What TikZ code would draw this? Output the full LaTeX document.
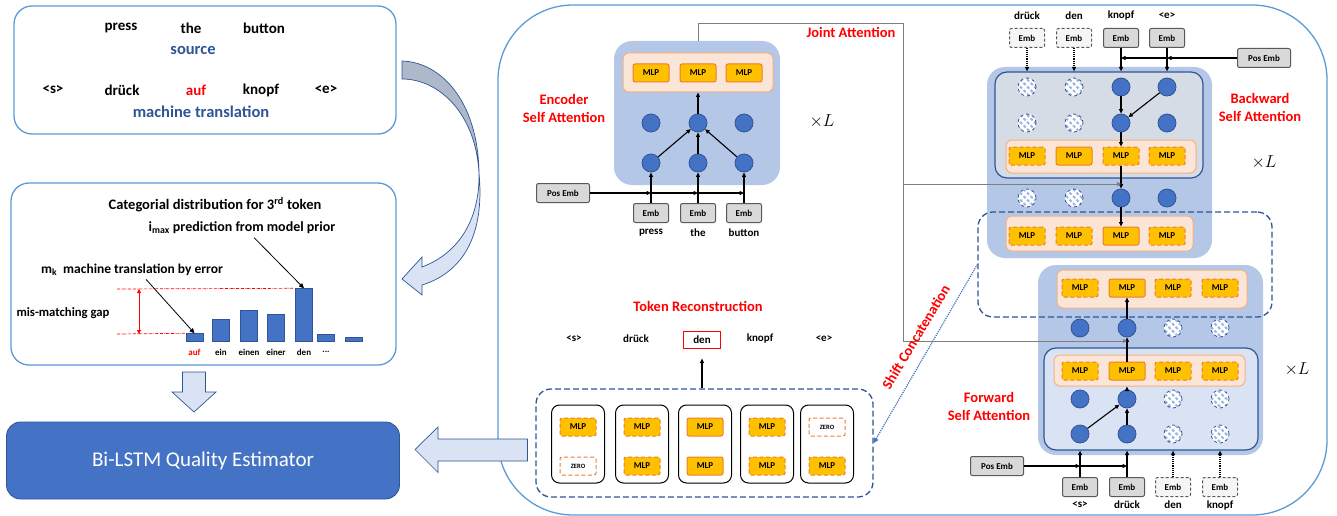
\documentclass[tikz,border=0pt]{standalone}
\usepackage{fontspec}
\setmainfont{Carlito}
\usetikzlibrary{arrows.meta,patterns.meta}

\definecolor{panelblue}{HTML}{5B9BD5}
\definecolor{darkblue}{HTML}{2F5597}
\definecolor{midblue}{HTML}{4472C4}
\definecolor{blockblue}{HTML}{B4C7E7}
\definecolor{paleblue}{HTML}{DAE3F3}
\definecolor{greyblue}{HTML}{D6DCE5}
\definecolor{slateblue}{HTML}{ADB9CA}
\definecolor{hatchblue}{HTML}{9DB4E0}
\definecolor{mlpfill}{HTML}{FFC000}
\definecolor{mlpedge}{HTML}{ED7D31}
\definecolor{trayfill}{HTML}{FBE5D6}
\definecolor{trayedge}{HTML}{F4B183}
\definecolor{embfill}{HTML}{D9D9D9}
\definecolor{embedge}{HTML}{595959}
\definecolor{jointgrey}{HTML}{7F7F7F}

\newcommand\fsz[1]{\fontsize{#1}{#1}\selectfont}
\newcommand\etcdots{...}

\tikzset{
  panel/.style={draw=panelblue, line width=1.3pt, rounded corners=18pt},
  word/.style={font=\bfseries\fsz{11}, inner sep=1pt},
  srcword/.style={font=\bfseries\fsz{15}, inner sep=1pt},
  bluelab/.style={text=darkblue, font=\bfseries\fsz{16.5}, inner sep=1pt},
  heading/.style={text=red, font=\bfseries\fontsize{14.5}{18}\selectfont, align=center},
  layers/.style={font=\fsz{18}},
  attnblock/.style={fill=blockblue, rounded corners=18pt, inner sep=0pt},
  layerbox/.style={draw=darkblue, line width=1.2pt, rounded corners=12pt, inner sep=0pt},
  tray/.style={draw=trayedge, fill=trayfill, line width=1pt, rounded corners=6pt, inner sep=0pt},
  mlp/.style={draw=mlpedge, fill=mlpfill, line width=1pt, rounded corners=2pt, minimum width=36pt,
    minimum height=18pt, inner sep=0pt, font=\bfseries\fsz{9}},
  mlpd/.style={mlp, dash pattern=on 4pt off 2.5pt},
  zero/.style={mlpd, fill=white, font=\bfseries\fsz{6.5}},
  cell/.style={circle, draw=darkblue, fill=midblue, line width=0.8pt, minimum size=18pt, inner sep=0pt},
  ghost/.style={circle, draw=darkblue, dashed, line width=0.8pt, minimum size=18pt, inner sep=0pt,
    preaction={fill=white}, pattern={Lines[angle=-45,distance=5pt,line width=2pt]}, pattern color=hatchblue},
  emb/.style={draw=embedge, fill=embfill, line width=1pt, rounded corners=2pt, minimum width=35pt,
    minimum height=19pt, inner sep=0pt, font=\bfseries\fsz{9}},
  embd/.style={emb, dash pattern=on 3pt off 2pt, fill=gray!8},
  slot/.style={draw, line width=1pt, rounded corners=8pt, minimum width=53pt, minimum height=78pt, inner sep=0pt},
  dashbox/.style={draw=darkblue, dash pattern=on 6pt off 3pt, line width=1.3pt, rounded corners=15pt, inner sep=0pt},
  link/.style={-{Triangle[length=4.5pt,width=4pt]}, line width=1.1pt},
  dotlink/.style={link, densely dotted},
  joint/.style={draw=jointgrey, line width=0.8pt},
  pointer/.style={-{Triangle[length=5pt,width=4.5pt]}, line width=0.8pt},
  gapline/.style={red, densely dash dot, line width=0.7pt},
  distbar/.style={anchor=south, fill=midblue, draw=darkblue, line width=0.7pt, minimum width=17pt, inner sep=0pt},
  barlab/.style={font=\bfseries\fsz{9}, inner sep=1pt},
  flow/.style={draw=darkblue, line width=0.7pt},
  qe/.style={fill=midblue, draw=darkblue, line width=0.8pt, rounded corners=14pt, minimum width=393pt,
    minimum height=77pt, text=white, font=\fsz{21}},
  shiftlink/.style={draw=midblue, densely dotted, line width=1.2pt, -{Triangle[length=5pt,width=5pt]}}
}

\begin{document}
\begin{tikzpicture}[x=1pt,y=-1pt]
\useasboundingbox (0,0) rectangle (1337,516);

% left column
\draw[panel] (14,6) rectangle (396,134);
\foreach \n/\x/\w in {1/121/press,2/191/the,3/264/button}
  \node[srcword] (src\n) at (\x,28) {\w};
\node[bluelab] (srclab) at (193,50) {source};
\foreach \n/\x/\w/\c in {1/53/{<s>}/black,2/122/drück/black,3/196/auf/red,4/261/knopf/black,5/326/{<e>}/black}
  \node[srcword, text=\c] (mt\n) at (\x,90) {\w};
\node[bluelab] (mtlab) at (201,112) {machine translation};

\draw[panel] (11,183) rectangle (396,365);
\node[font=\bfseries\fsz{14.5}] (cattitle) at (215,205) {Categorial distribution for 3\textsuperscript{rd} token};
\node[font=\bfseries\fsz{14}] (imax) at (242,228) {i\textsubscript{max} prediction from model prior};
\node[font=\bfseries\fsz{13.5}] (mk) at (132,270) {m\textsubscript{k}\ \ machine translation by error};
\node[font=\bfseries\fsz{12.7}] (gaplab) at (63,313) {mis-matching gap};
\foreach \n/\x/\h/\w/\c in {1/194.5/8/auf/red,2/221/22/ein/black,3/249/31/einen/black,4/276/27/einer/black,
    5/304/53/den/black,6/326/7/\etcdots/black,7/353.5/4/{}/black}{
  \node[distbar, minimum height=\h] (bar\n) at (\x,342) {};
  \node[barlab, text=\c] (lab\n) at (\x,352) {\w};
}
\coordinate (gaptop) at (117,289);
\coordinate (gapbot) at (117,334);
\draw[gapline] (gaptop) -- (bar5.north west);
\draw[gapline] (gapbot) -- (bar1.north west);
\draw[red, line width=0.8pt, {Triangle[length=4pt,width=4pt]}-{Triangle[length=4pt,width=4pt]}]
  ([xshift=22pt]gaptop) -- ([xshift=22pt]gapbot);
\draw[pointer] ([xshift=12pt]imax.south) -- (bar5.north);
\draw[pointer] ([xshift=14pt]mk.south) -- (bar1.north);

\draw[flow, fill=slateblue] (402,61) .. controls (440,62) and (478,100) .. (479,173)
  .. controls (476,115) and (440,79) .. (402,79) -- cycle;
\draw[flow, fill=paleblue] (479,173) .. controls (480,215) and (462,252) .. (422,267) -- (422,257)
  -- (402,279) -- (422,295) -- (422,285) .. controls (470,270) and (484,225) .. (479,173) -- cycle;
\draw[flow, fill=paleblue] (182.5,372) -- (205.5,372) -- (205.5,392) -- (216,392) -- (194,412)
  -- (172,392) -- (182.5,392) -- cycle;
\node[qe] (qe) at (203,460.5) {Bi-LSTM Quality Estimator};

% model
\draw[panel, rounded corners=75pt] (498,5) rectangle (1327,515);
\draw[flow, fill=paleblue] (527.5,439) -- (438,439) -- (438,427) -- (415,449.5) -- (438,472.5)
  -- (438,461) -- (527.5,461) -- cycle;

% encoder
\node[attnblock, minimum width=166pt, minimum height=144pt] (eblk) at (697,113) {};
\node[tray, minimum width=150pt, minimum height=39pt] (etray) at (698,72.5) {};
\node[heading] (enclab) at (564,108) {Encoder\\Self Attention};
\node[layers] (encL) at (822,121) {$\times L$};
\node[emb, minimum width=53pt] (epos) at (563,193) {Pos Emb};
\foreach \i/\x/\w in {1/651/press,2/698/the,3/744/button}{
  \node[mlp] (em\i) at (\x,73) {MLP};
  \node[cell] (eh\i) at (\x,123) {};
  \node[cell] (el\i) at (\x,163) {};
  \node[emb] (ee\i) at (\x,213) {Emb};
  \node[word] (ew\i) at (\x,233) {\w};
}
\draw[link] (epos.east) -- (ee1 |- epos);
\draw[link] (ee1 |- epos) -- (ee2 |- epos);
\draw[link] (ee2 |- epos) -- (ee3 |- epos);
\foreach \i in {1,2,3}{
  \draw[link] (ee\i) -- (el\i);
  \draw[link] (el\i) -- (eh2);
}
\draw[link] (eh2) -- (eh2 |- etray.south);

% joint attention
\node[heading] (jointlab) at (851,32) {Joint Attention};
\coordinate (jtop) at (903,23);
\coordinate (jmid) at (903,184);
\coordinate (jbot) at (903,341);
\draw[joint] (eblk.north -| eh2) |- (jtop) -- (jbot);

% token reconstruction
\node[heading] (reclab) at (698,306) {Token Reconstruction};
\foreach \n/\x/\w in {1/574/{<s>},2/636/drück,4/760/knopf,5/824/{<e>}}
  \node[word] (r\n) at (\x,339) {\w};
\node[word, draw=red, line width=1pt, minimum width=37pt, minimum height=17pt] (r3) at (702,339.5) {den};
\node[dashbox, minimum width=337pt, minimum height=108pt] (rbox) at (704.5,443) {};
\draw[link] (rbox.north -| r3) -- ([yshift=-10pt]r3.south);
\foreach \i/\x/\sa/\ta/\sb/\tb in {1/578/mlpd/MLP/zero/ZERO,2/642/mlpd/MLP/mlpd/MLP,3/705/mlp/MLP/mlp/MLP,
    4/767/mlpd/MLP/mlpd/MLP,5/827/zero/ZERO/mlpd/MLP}{
  \node[slot] (rs\i) at (\x,444) {};
  \node[\sa] (ra\i) at (\x,427) {\ta};
  \node[\sb] (rb\i) at (\x,466) {\tb};
}

% backward decoder
\node[attnblock, minimum width=225pt, minimum height=191pt] (bblk) at (1099.5,162.5) {};
\node[layerbox, fill=greyblue, minimum width=208pt, minimum height=106pt] (binner) at (1099,125) {};
\node[tray, minimum width=190pt, minimum height=33pt] (btray1) at (1101,156.5) {};
\node[tray, minimum width=187pt, minimum height=35pt] (btray2) at (1099.5,233.5) {};
\node[emb, minimum width=53pt] (bpos) at (1264,58) {Pos Emb};
\node[heading] (bwdlab) at (1260,107.5) {Backward\\Self Attention};
\node[layers] (bwdL) at (1264,162) {$\times L$};
\foreach \i/\x/\rs/\ma/\mb/\es/\w in {1/1027/ghost/mlpd/mlpd/embd/drück,2/1074/ghost/mlp/mlpd/embd/den,
    3/1121/cell/mlpd/mlp/emb/knopf,4/1167/cell/mlpd/mlpd/emb/{<e>}}{
  \node[word] (bw\i) at (\x,16) {\w};
  \node[\es] (be\i) at (\x,38) {Emb};
  \node[\rs] (b1\i) at (\x,87) {};
  \node[\rs] (b2\i) at (\x,123) {};
  \node[\ma] (bm\i) at (\x,156) {MLP};
  \node[\rs] (b3\i) at (\x,198) {};
  \node[\mb] (bn\i) at (\x,236) {MLP};
}

% forward decoder
\node[attnblock, minimum width=225pt, minimum height=190pt] (fblk) at (1150.5,360) {};
\node[tray, minimum width=190pt, minimum height=38pt] (ftray1) at (1152,289) {};
\node[layerbox, fill=paleblue, minimum width=214pt, minimum height=102pt] (finner) at (1151,399) {};
\node[tray, minimum width=191pt, minimum height=31pt] (ftray2) at (1149.5,370.5) {};
\node[emb, minimum width=53pt] (fpos) at (997,466) {Pos Emb};
\node[heading] (fwdlab) at (989,406) {Forward\\Self Attention};
\node[layers] (fwdL) at (1297,369) {$\times L$};
\foreach \i/\x/\rs/\ma/\es/\w in {1/1080/cell/mlpd/emb/{<s>},2/1127/cell/mlp/emb/drück,
    3/1173/ghost/mlpd/embd/den,4/1220/ghost/mlpd/embd/knopf}{
  \node[\ma] (fm\i) at (\x,288) {MLP};
  \node[\rs] (f3\i) at (\x,328) {};
  \node[\ma] (fn\i) at (\x,371) {MLP};
  \node[\rs] (f2\i) at (\x,399) {};
  \node[\rs] (f1\i) at (\x,434) {};
  \node[\es] (fe\i) at (\x,487) {Emb};
  \node[word] (fw\i) at (\x,505) {\w};
}

\node[dashbox, minimum width=294pt, minimum height=105pt] (catbox) at (1125,264.5) {};

% backward links
\draw[link] (bpos.west) -- (be4 |- bpos);
\draw[link] (be4 |- bpos) -- (be3 |- bpos);
\draw[dotlink] (be1) -- (be1 |- binner.north);
\draw[dotlink] (be2) -- (be2 |- binner.north);
\draw[link] (be3) -- (be3 |- binner.north);
\draw[link] (be4) -- (be4 |- binner.north);
\draw[link] (b13) -- (b23);
\draw[link] (b14) -- (b23);
\draw[link] (b23) -- (bm3);
\draw[link] (bm3) -- (b33);
\draw[link] (b33) -- (bn3);

% forward links
\draw[link] (fpos.east) -- (fe1 |- fpos);
\draw[link] (fe1 |- fpos) -- (fe2 |- fpos);
\draw[link] (fe1) -- (fe1 |- finner.south);
\draw[link] (fe2) -- (fe2 |- finner.south);
\draw[dotlink] (fe3) -- (fe3 |- finner.south);
\draw[dotlink] (fe4) -- (fe4 |- finner.south);
\draw[link] (f11) -- (f22);
\draw[link] (f12) -- (f22);
\draw[link] (f22) -- (f22 |- ftray2.south);
\draw[link] (fn2) -- (f32);
\draw[link] (f32) -- (fm2);

\draw[joint, -{Triangle[length=4pt,width=4pt]}] (jmid) -- (b33 |- jmid);
\draw[joint, -{Triangle[length=4pt,width=4pt]}] (jbot) -- (f32 |- jbot);

\draw[shiftlink] (catbox.west) -- (rbox.east);
\node[heading, rotate=59] (shiftlab) at (916,337) {Shift Concatenation};
\end{tikzpicture}
\end{document}
